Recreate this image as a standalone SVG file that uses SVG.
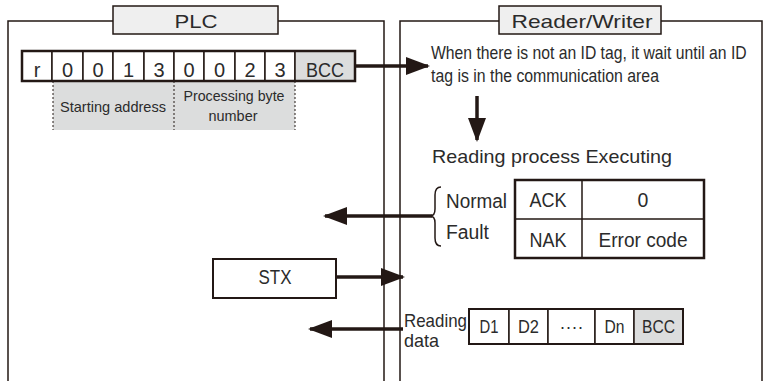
<svg xmlns="http://www.w3.org/2000/svg" width="766" height="381" viewBox="0 0 766 381">
<style>
text{font-family:"Liberation Sans",Arial,sans-serif;fill:#2b2b2b}
.ln{fill:none;stroke:#231815;stroke-width:1.5}
.cell{fill:#fff;stroke:#231815;stroke-width:1.5}
.gcell{fill:#dcdddd;stroke:#231815;stroke-width:1.5}
.title{fill:#efefef;stroke:#231815;stroke-width:1.5}
.arr{fill:none;stroke:#231815;stroke-width:3.5}
.c{text-anchor:middle}
</style>
<defs>
<marker id="ah" viewBox="0 0 24 18" refX="22" refY="9" markerWidth="24" markerHeight="18" markerUnits="userSpaceOnUse" orient="auto">
<path d="M0,0 L24,9 L0,18 Z" fill="#231815"/>
</marker>
</defs>
<rect width="766" height="381" fill="#fff"/>

<g id="plc-frame">
<path class="ln" d="M8,381 V21 H113 M278,21 H384 V381"/>
<rect class="title" x="113" y="6" width="165" height="28"/>
<text class="c" x="196" y="28" font-size="19" textLength="43" lengthAdjust="spacingAndGlyphs">PLC</text>
</g>

<g id="rw-frame">
<path class="ln" d="M400,381 V21 H499 M661,21 H762 V381"/>
<rect class="title" x="499" y="6" width="162" height="28"/>
<text class="c" x="582" y="28" font-size="19" textLength="141" lengthAdjust="spacingAndGlyphs">Reader/Writer</text>
</g>

<g id="command">
<rect x="53" y="81" width="242" height="49" fill="#dcdddd"/>
<path d="M53,81 V130 M174,81 V130 M295,81 V130" fill="none" stroke="#231815" stroke-width="1" stroke-dasharray="2,2"/>
<text class="c" x="113" y="112" font-size="15" textLength="106" lengthAdjust="spacingAndGlyphs">Starting address</text>
<text class="c" x="234" y="101" font-size="15" textLength="101" lengthAdjust="spacingAndGlyphs">Processing byte</text>
<text class="c" x="233" y="121" font-size="15" textLength="49" lengthAdjust="spacingAndGlyphs">number</text>
<rect class="cell" x="22" y="51" width="30" height="30"/>
<rect class="cell" x="52" y="51" width="31" height="30"/>
<rect class="cell" x="83" y="51" width="30" height="30"/>
<rect class="cell" x="113" y="51" width="31" height="30"/>
<rect class="cell" x="144" y="51" width="30" height="30"/>
<rect class="cell" x="174" y="51" width="30" height="30"/>
<rect class="cell" x="204" y="51" width="31" height="30"/>
<rect class="cell" x="235" y="51" width="30" height="30"/>
<rect class="cell" x="265" y="51" width="30" height="30"/>
<rect class="gcell" x="295" y="51" width="60" height="30"/>
<rect x="22" y="51" width="333" height="30" fill="none" stroke="#231815" stroke-width="2.5"/>
<g font-size="20">
<text class="c" x="37" y="77">r</text>
<text class="c" x="67.5" y="77">0</text>
<text class="c" x="98" y="77">0</text>
<text class="c" x="128.5" y="77">1</text>
<text class="c" x="159" y="77">3</text>
<text class="c" x="189" y="77">0</text>
<text class="c" x="219.5" y="77">0</text>
<text class="c" x="250" y="77">2</text>
<text class="c" x="280" y="77">3</text>
<text class="c" x="325" y="77" textLength="38" lengthAdjust="spacingAndGlyphs">BCC</text>
</g>
</g>

<g id="wait-text">
<text transform="matrix(0.86 0 0 1 431 59)" x="0" y="0" font-size="17.5" textLength="367" lengthAdjust="spacingAndGlyphs">When there is not an ID tag, it wait until an ID</text>
<text x="431" y="82" font-size="17.5" textLength="228" lengthAdjust="spacingAndGlyphs">tag is in the communication area</text>
</g>

<g id="executing">
<text x="432" y="163" font-size="18.5" textLength="240" lengthAdjust="spacingAndGlyphs">Reading process Executing</text>
</g>

<g id="response">
<path class="ln" d="M441,187 Q435,187 435,195 L435,209 Q435,216 430,216 Q435,216 435,223 L435,238 Q435,246 441,246"/>
<text x="446" y="208" font-size="19.5" textLength="61" lengthAdjust="spacingAndGlyphs">Normal</text>
<text x="446" y="239" font-size="19.5" textLength="43" lengthAdjust="spacingAndGlyphs">Fault</text>
<rect x="515" y="180" width="189" height="78" fill="#fff" stroke="#231815" stroke-width="2.5"/>
<path class="ln" d="M515,219 H704 M582,180 V258"/>
<g font-size="19.5">
<text class="c" x="548" y="207" textLength="37" lengthAdjust="spacingAndGlyphs">ACK</text>
<text class="c" x="643" y="207">0</text>
<text class="c" x="548" y="247" textLength="37" lengthAdjust="spacingAndGlyphs">NAK</text>
<text class="c" x="643" y="247" textLength="89" lengthAdjust="spacingAndGlyphs">Error code</text>
</g>
</g>

<g id="stx">
<rect x="213" y="259" width="123" height="39" fill="#fff" stroke="#231815" stroke-width="2"/>
<text class="c" x="275" y="284" font-size="19.5" textLength="33" lengthAdjust="spacingAndGlyphs">STX</text>
</g>

<g id="data">
<text x="404" y="327" font-size="19" textLength="63" lengthAdjust="spacingAndGlyphs">Reading</text>
<text x="404" y="347" font-size="19" textLength="35" lengthAdjust="spacingAndGlyphs">data</text>
<rect class="cell" x="469" y="309" width="40" height="35"/>
<rect class="cell" x="509" y="309" width="39" height="35"/>
<rect class="cell" x="548" y="309" width="47" height="35"/>
<rect class="cell" x="595" y="309" width="39" height="35"/>
<rect class="gcell" x="634" y="309" width="49" height="35"/>
<rect x="469" y="309" width="214" height="35" fill="none" stroke="#231815" stroke-width="2"/>
<g font-size="19">
<text class="c" x="489" y="333" textLength="19" lengthAdjust="spacingAndGlyphs">D1</text>
<text class="c" x="528.5" y="333" textLength="21" lengthAdjust="spacingAndGlyphs">D2</text>
<text class="c" x="571.5" y="333" textLength="24" lengthAdjust="spacingAndGlyphs">····</text>
<text class="c" x="614.5" y="333" textLength="20" lengthAdjust="spacingAndGlyphs">Dn</text>
<text class="c" x="658.5" y="333" textLength="33" lengthAdjust="spacingAndGlyphs">BCC</text>
</g>
</g>

<g id="connectors">
<line class="arr" x1="355" y1="66" x2="428" y2="66" marker-end="url(#ah)"/>
<line class="arr" x1="477" y1="96" x2="477" y2="140" marker-end="url(#ah)"/>
<line class="arr" x1="432" y1="216" x2="325" y2="216" marker-end="url(#ah)"/>
<line class="arr" x1="336" y1="277" x2="403" y2="277" marker-end="url(#ah)"/>
<line class="arr" x1="403" y1="329" x2="310" y2="329" marker-end="url(#ah)"/>
</g>
</svg>
